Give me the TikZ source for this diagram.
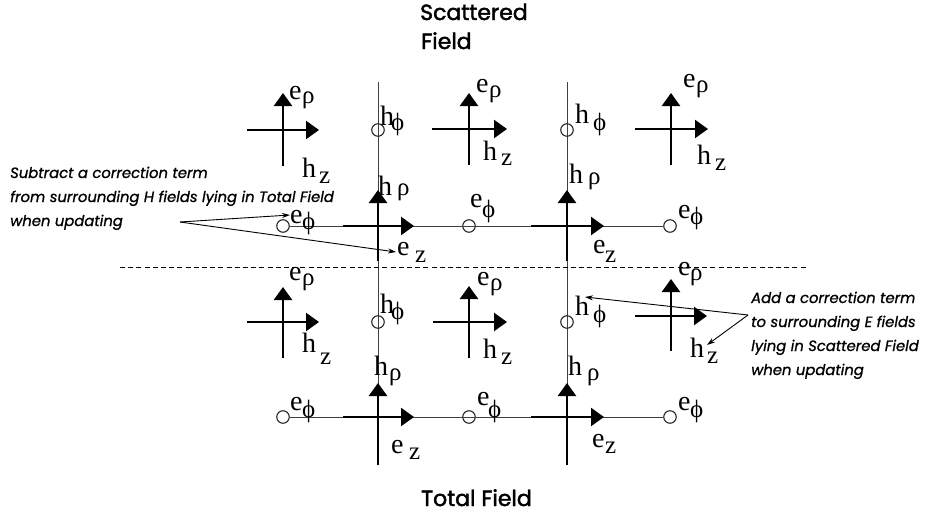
\documentclass[tikz,border=0pt]{standalone}
\usepackage{fontspec}
\setmainfont{Liberation Serif}
\newfontfamily\notefont[FakeBold=1.0]{Poppins}
\newfontfamily\headfont[FakeBold=2.0]{Poppins}
\usetikzlibrary{arrows.meta}
\tikzset{
  thinline/.style={line width=0.9pt,draw=black!75},
  thickarrow/.style={line width=2.4pt,-{Triangle[length=13pt,width=18pt]}},
  thinarrow/.style={line width=0.9pt,-{Stealth[length=8pt,width=5pt]}},
  probe/.style={circle,draw=black!85,line width=1.1pt,fill=none,minimum size=12.5pt,inner sep=0pt},
  field/.style={anchor=base west,inner sep=0pt,font=\fontsize{28}{28}\selectfont},
  note/.style={anchor=base west,inner sep=0pt,font=\notefont\itshape\fontsize{14.8}{14.8}\selectfont},
  heading/.style={anchor=base west,inner sep=0pt,font=\headfont\fontsize{22}{22}\selectfont}
}
% name, x, y (baseline), letter, subscript x, subscript, subscript baseline
\newcommand{\fld}[7]{%
  \node[field] (#1) at (#2,#3) {\rlap{#4}\hspace{\dimexpr#5pt-#2pt\relax}\raisebox{\dimexpr#3pt-#7pt\relax}{\fontsize{25}{25}\selectfont#6}};}
\begin{document}
\begin{tikzpicture}[x=1pt,y=-1pt]
\useasboundingbox (0,0) rectangle (927,514);
% long verticals
\coordinate (va) at (378,82); \coordinate (vb) at (378,465);
\coordinate (vc) at (567,82); \coordinate (vd) at (567,465);
\draw[thinline] (va) -- (vb);
\draw[thinline] (vc) -- (vd);
% dashed interface
\coordinate (da) at (120,267); \coordinate (db) at (806,267);
\draw[line width=0.9pt,dash pattern=on 5pt off 3.2pt] (da) -- (db);
% probes
\foreach \n/\x/\y in {p1/378/130,p2/567/130,p3/283/226,p4/469/226,p5/670/226,p6/378/322,p7/567/322,p8/283/417,p9/469/417,p10/670/417}
  \node[probe] (\n) at (\x,\y) {};
% thin horizontals
\draw[thinline] (p3) -- (p5);
\draw[thinline] (p8) -- (p10);
% crosses: name/west/east/y/xv/top/bottom
\foreach \n/\w/\e/\y/\xv/\t/\b in {
  a/247/319/130/283/93/166, b/432/507/129/469/93/165, c/635/708/129/671/93/165,
  d/343/414/226/378/190/261, e/531/604/226/567/190/261,
  f/247/319/322/283/287/358, g/433/507/322/469/286/358, h/635/707/316/671/279/351,
  i/343/414/417/378/383/465, j/531/604/417/567/383/465}{
  \coordinate (\n w) at (\w,\y); \coordinate (\n e) at (\e,\y);
  \coordinate (\n s) at (\xv,\b); \coordinate (\n n) at (\xv,\t);
  \draw[thickarrow] (\n w) -- (\n e);
  \draw[thickarrow] (\n s) -- (\n n);
}
% field labels
\fld{l1}{289}{99}{e}{302}{ρ}{103}
\fld{l2}{302}{177}{h}{319}{z}{183}
\fld{l3}{380}{125}{h}{391}{ϕ}{130}
\fld{l4}{476}{92}{e}{489}{ρ}{97}
\fld{l5}{483}{160}{h}{501}{z}{165}
\fld{l6}{575}{123}{h}{593}{ϕ}{130}
\fld{l7}{683}{87}{e}{696}{ρ}{92}
\fld{l8}{697}{164}{h}{715}{z}{170}
\fld{l9}{378}{195}{h}{397}{ρ}{195}
\fld{l10}{569}{183}{h}{588}{ρ}{184}
\fld{l11}{290}{223}{e}{302}{ϕ}{229}
\fld{l12}{470}{207}{e}{482}{ϕ}{217}
\fld{l13}{678}{218}{e}{690}{ϕ}{224}
\fld{l14}{397}{255}{e}{415}{z}{262}
\fld{l15}{593}{253}{e}{605}{z}{262}
\fld{l16}{289}{280}{e}{302}{ρ}{285}
\fld{l17}{477}{285}{e}{490}{ρ}{290}
\fld{l18}{678}{275}{e}{690}{ρ}{280}
\fld{l19}{380}{313}{h}{391}{ϕ}{319}
\fld{l20}{575}{315}{h}{593}{ϕ}{322}
\fld{l21}{302}{352}{h}{320}{z}{364}
\fld{l22}{483}{358}{h}{501}{z}{364}
\fld{l23}{690}{357}{h}{707}{z}{363}
\fld{l24}{374}{375}{h}{389}{ρ}{380}
\fld{l25}{568}{375}{h}{587}{ρ}{380}
\fld{l26}{290}{410}{e}{302}{ϕ}{417}
\fld{l27}{477}{405}{e}{488}{ϕ}{417}
\fld{l28}{678}{410}{e}{690}{ϕ}{417}
\fld{l29}{391}{453}{e}{409}{z}{459}
\fld{l30}{592}{447}{e}{605}{z}{453}
% headings
\node[heading] (t1) at (420,20) {Scattered};
\node[heading] (t2) at (421,49) {Field};
\node[heading] (t3) at (421,506) {Total Field};
% notes
\node[note] (n1) at (10,178) {Subtract a correction term};
\node[note] (n2) at (10,202) {from surrounding H fields lying in Total Field};
\node[note] (n3) at (10,226) {when updating};
\node[note] (n4) at (751,303) {Add a correction term};
\node[note] (n5) at (751,327) {to surrounding E fields};
\node[note] (n6) at (751,351) {lying in Scattered Field};
\node[note] (n7) at (751,375) {when updating};
% leader arrows
\coordinate (sa) at (180,222);
\coordinate (se1) at (290,215);
\coordinate (se2) at (396,252);
\draw[thinarrow] (sa) -- (se1);
\draw[thinarrow] (sa) -- (se2);
\coordinate (aa) at (748,315);
\coordinate (ae1) at (585,297);
\coordinate (ae2) at (707,345);
\draw[thinarrow] (aa) -- (ae1);
\draw[thinarrow] (aa) -- (ae2);
\end{tikzpicture}
\end{document}
